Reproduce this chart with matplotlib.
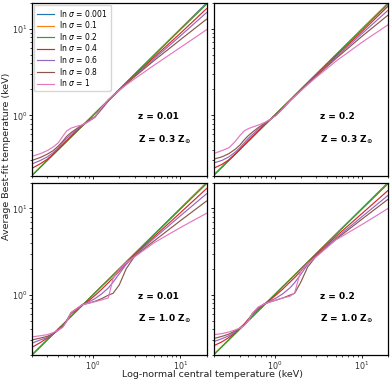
import matplotlib
matplotlib.use("Agg")
import matplotlib.pyplot as plt

# Log-normal central temperature grid (keV)
t_central = [0.2, 0.25, 0.3, 0.35, 0.4, 0.45, 0.5, 0.56, 0.65, 0.76, 0.9, 1.05,
             1.25, 1.5, 1.7, 2.0, 2.4, 3.0, 5.0, 10.0, 20.0]

sigma_labels = ["0.001", "0.1", "0.2", "0.4", "0.6", "0.8", "1"]

# nearly ideal widths (shared by all panels)
fit_s0001 = [0.2, 0.25, 0.3, 0.35, 0.4, 0.45, 0.5, 0.56, 0.65, 0.76, 0.9, 1.05,
             1.25, 1.5, 1.7, 2.0, 2.4, 3.0, 5.0, 10.0, 20.0]
fit_s01 = [0.203, 0.253, 0.303, 0.352, 0.401, 0.451, 0.5, 0.56, 0.65, 0.76, 0.9, 1.05,
           1.25, 1.5, 1.7, 2.0, 2.4, 3.0, 4.98, 9.9, 19.6]
fit_s02 = [0.201, 0.251, 0.301, 0.351, 0.401, 0.45, 0.5, 0.56, 0.65, 0.76, 0.9, 1.05,
           1.25, 1.49, 1.69, 1.99, 2.39, 2.98, 4.95, 9.8, 19.4]

# panel: z = 0.01, Z = 0.3 Zsun
a_s04 = [0.243, 0.275, 0.31, 0.355, 0.405, 0.455, 0.51, 0.57, 0.66, 0.76, 0.87, 0.97,
         1.18, 1.47, 1.67, 1.96, 2.34, 2.9, 4.7, 8.9, 17.2]
a_s06 = [0.273, 0.30, 0.33, 0.37, 0.42, 0.48, 0.54, 0.60, 0.68, 0.77, 0.86, 0.95,
         1.17, 1.47, 1.67, 1.95, 2.32, 2.85, 4.5, 8.3, 15.5]
a_s08 = [0.30, 0.325, 0.355, 0.39, 0.44, 0.50, 0.57, 0.63, 0.70, 0.78, 0.86, 0.95,
         1.2, 1.5, 1.68, 1.95, 2.3, 2.8, 4.3, 7.5, 13.0]
a_s10 = [0.334, 0.36, 0.39, 0.43, 0.48, 0.57, 0.66, 0.71, 0.745, 0.775, 0.85, 0.96,
         1.22, 1.52, 1.7, 1.95, 2.25, 2.65, 3.8, 6.1, 9.8]

# panel: z = 0.2, Z = 0.3 Zsun
b_s04 = [0.243, 0.27, 0.305, 0.35, 0.40, 0.455, 0.51, 0.57, 0.66, 0.77, 0.9, 1.03,
         1.22, 1.47, 1.67, 1.97, 2.36, 2.93, 4.8, 9.3, 18.4]
b_s06 = [0.28, 0.30, 0.33, 0.37, 0.42, 0.48, 0.54, 0.60, 0.69, 0.79, 0.9, 1.02,
         1.21, 1.47, 1.66, 1.95, 2.33, 2.88, 4.65, 8.8, 16.5]
b_s08 = [0.31, 0.33, 0.36, 0.40, 0.45, 0.52, 0.58, 0.64, 0.72, 0.80, 0.9, 1.01,
         1.21, 1.47, 1.66, 1.94, 2.3, 2.83, 4.5, 8.2, 14.5]
b_s10 = [0.36, 0.39, 0.42, 0.49, 0.58, 0.66, 0.70, 0.73, 0.77, 0.82, 0.9, 1.0,
         1.2, 1.47, 1.65, 1.92, 2.27, 2.75, 4.2, 7.0, 11.2]

# panel: z = 0.01, Z = 1.0 Zsun
c_s04 = [0.246, 0.28, 0.315, 0.35, 0.40, 0.44, 0.50, 0.60, 0.67, 0.77, 0.86, 0.98,
         1.15, 1.38, 1.57, 1.88, 2.3, 2.9, 4.7, 8.9, 17.0]
c_s06 = [0.275, 0.30, 0.32, 0.35, 0.39, 0.43, 0.50, 0.61, 0.68, 0.77, 0.83, 0.90,
         1.02, 1.2, 1.4, 1.75, 2.25, 2.85, 4.5, 8.2, 14.8]
c_s08 = [0.30, 0.315, 0.33, 0.355, 0.39, 0.425, 0.50, 0.62, 0.69, 0.77, 0.80, 0.84,
         0.90, 0.99, 1.04, 1.3, 2.0, 2.8, 4.2, 7.2, 12.2]
c_s10 = [0.325, 0.335, 0.345, 0.365, 0.39, 0.42, 0.49, 0.62, 0.69, 0.77, 0.80, 0.83,
         0.87, 0.92, 1.55, 1.95, 2.35, 2.75, 4.0, 6.0, 8.8]

# panel: z = 0.2, Z = 1.0 Zsun
d_s04 = [0.256, 0.285, 0.32, 0.36, 0.41, 0.46, 0.52, 0.59, 0.68, 0.78, 0.88, 1.0,
         1.17, 1.4, 1.58, 1.88, 2.3, 2.9, 4.7, 8.7, 16.2]
d_s06 = [0.286, 0.31, 0.335, 0.37, 0.41, 0.45, 0.51, 0.60, 0.70, 0.78, 0.85, 0.92,
         1.03, 1.2, 1.38, 1.72, 2.25, 2.85, 4.5, 8.0, 14.2]
d_s08 = [0.31, 0.33, 0.35, 0.38, 0.41, 0.45, 0.51, 0.61, 0.71, 0.78, 0.83, 0.87,
         0.92, 0.99, 1.04, 1.4, 2.1, 2.8, 4.35, 7.5, 12.8]
d_s10 = [0.344, 0.355, 0.37, 0.39, 0.41, 0.44, 0.50, 0.61, 0.72, 0.78, 0.83, 0.87,
         0.92, 0.96, 1.05, 1.9, 2.3, 2.75, 4.3, 6.5, 10.0]

panel_z = ["0.01", "0.2", "0.01", "0.2"]
panel_Z = ["0.3", "0.3", "1.0", "1.0"]

panels = [
    [fit_s0001, fit_s01, fit_s02, a_s04, a_s06, a_s08, a_s10],
    [fit_s0001, fit_s01, fit_s02, b_s04, b_s06, b_s08, b_s10],
    [fit_s0001, fit_s01, fit_s02, c_s04, c_s06, c_s08, c_s10],
    [fit_s0001, fit_s01, fit_s02, d_s04, d_s06, d_s08, d_s10],
]

colors = ["#1f77b4", "#ff7f0e", "#2ca02c", "#d62728", "#9467bd", "#8c564b", "#e377c2"]

fig, axes = plt.subplots(2, 2, figsize=(3.9, 3.81), dpi=100, sharex=True, sharey=True)
fig.subplots_adjust(left=0.082, right=0.995, bottom=0.068, top=0.992,
                    wspace=0.04, hspace=0.04)

for i, ax in enumerate(axes.flat):
    for series, lab, c in zip(panels[i], sigma_labels, colors):
        ax.plot(t_central, series, color=c, lw=0.85, label=r"ln $\sigma$ = " + lab)
    ax.set_xscale("log")
    ax.set_yscale("log")
    ax.set_xlim(0.2, 20)
    ax.set_ylim(0.2, 20)
    ax.tick_params(labelsize=5.8, length=2.2, width=0.6, pad=1.0,
                   labelcolor="#333333")
    ax.tick_params(which="minor", length=1.4, width=0.5)
    for s in ax.spines.values():
        s.set_linewidth(0.9)
    ax.text(0.61, 0.34, "z = " + panel_z[i], transform=ax.transAxes,
            fontsize=6.5, fontweight="bold", va="center", ha="left")
    ax.text(0.61, 0.21, "Z = " + panel_Z[i] + r" Z$_{\mathbf{\odot}}$",
            transform=ax.transAxes, fontsize=6.5, fontweight="bold",
            va="center", ha="left")

axes[0, 0].legend(loc="upper left", fontsize=5.5, handlelength=2.3,
                  borderaxespad=0.25, labelspacing=0.08, handletextpad=0.7,
                  frameon=True, fancybox=True, borderpad=0.35)

fig.text(0.545, 0.004, "Log-normal central temperature (keV)", ha="center",
         va="bottom", fontsize=6.8, color="#222222")
fig.text(0.004, 0.59, "Average Best-fit temperature (keV)", ha="left",
         va="center", rotation=90, fontsize=6.8, color="#222222")

fig.savefig("out.png", dpi=100)
